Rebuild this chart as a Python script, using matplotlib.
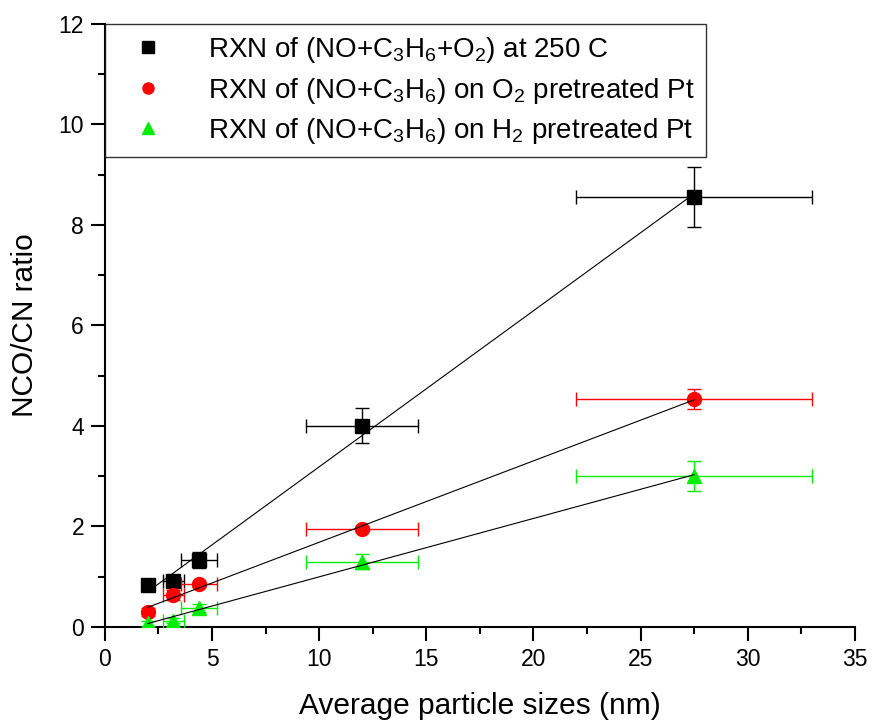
import numpy as np
import matplotlib
matplotlib.use('Agg')
import matplotlib.pyplot as plt
from matplotlib.ticker import MultipleLocator

plt.rcParams['font.family'] = ['Liberation Sans', 'DejaVu Sans']
plt.rcParams['mathtext.fontset'] = 'custom'
plt.rcParams['mathtext.rm'] = 'Liberation Sans'

size = [2.0, 3.2, 4.4, 12.0, 27.5]
size_err = [0.0, 0.5, 0.85, 2.6, 5.5]

ratio_o2 = [0.83, 0.92, 1.33, 4.0, 8.56]
err_o2 = [0.0, 0.1, 0.15, 0.35, 0.6]

ratio_o2pre = [0.30, 0.64, 0.85, 1.95, 4.53]
err_o2pre = [0.08, 0.1, 0.05, 0.05, 0.2]

ratio_h2pre = [0.07, 0.12, 0.38, 1.30, 3.0]
err_h2pre = [0.05, 0.05, 0.08, 0.15, 0.3]

labels = [r'RXN of (NO+C$_\mathrm{3}$H$_\mathrm{6}$+O$_\mathrm{2}$) at 250 C',
          r'RXN of (NO+C$_\mathrm{3}$H$_\mathrm{6}$) on O$_\mathrm{2}$ pretreated Pt',
          r'RXN of (NO+C$_\mathrm{3}$H$_\mathrm{6}$) on H$_\mathrm{2}$ pretreated Pt']

fig = plt.figure(figsize=(8.74, 7.23), dpi=100)
ax = fig.add_axes([0.12, 0.133, 0.858, 0.834])

series = [(ratio_o2, err_o2, 's', 'black'),
          (ratio_o2pre, err_o2pre, 'o', 'red'),
          (ratio_h2pre, err_h2pre, '^', '#00ee00')]

x = np.array(size)
handles = []
for (y, ye, m, c), lab in zip(series, labels):
    h = ax.errorbar(x, y, xerr=size_err, yerr=ye, fmt=m, color=c, ms=10,
                    ecolor=c, elinewidth=1, capsize=5, capthick=1, label=lab, zorder=3)
    handles.append(h)
    # linear fit line
    p = np.polyfit(x, y, 1)
    xf = np.array([x.min(), x.max()])
    ax.plot(xf, np.polyval(p, xf), '-', color='black', lw=0.8, zorder=4)

ax.set_xlim(0, 35)
ax.set_ylim(0, 12)
ax.xaxis.set_major_locator(MultipleLocator(5))
ax.xaxis.set_minor_locator(MultipleLocator(2.5))
ax.yaxis.set_major_locator(MultipleLocator(2))
ax.yaxis.set_minor_locator(MultipleLocator(1))
ax.tick_params(which='major', direction='out', length=10, width=1.5, labelsize=16.5, pad=5)
ax.tick_params(which='minor', direction='out', length=5, width=1.5)
for s in ['top', 'right']:
    ax.spines[s].set_visible(False)
for s in ['left', 'bottom']:
    ax.spines[s].set_linewidth(1.5)

ax.set_xlabel('Average particle sizes (nm)', fontsize=21.5, labelpad=15)
ax.set_ylabel('NCO/CN ratio', fontsize=21.5, labelpad=14)

leg = ax.legend(handles=[h[0] for h in handles], labels=labels, loc='upper left',
                fontsize=20, frameon=True, fancybox=False, edgecolor='black',
                borderaxespad=0, handletextpad=1.0, borderpad=0.4, labelspacing=0.38,
                handlelength=2.3, markerscale=0.8)
leg.get_frame().set_linewidth(1.0)

fig.savefig('out.png', dpi=100)
